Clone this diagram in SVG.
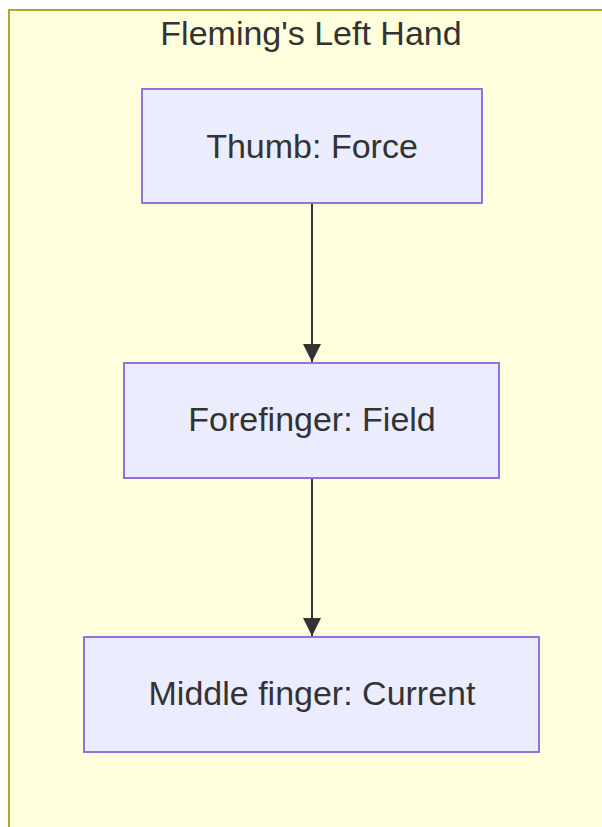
<svg xmlns="http://www.w3.org/2000/svg" width="602" height="827" viewBox="0 0 602 827">
  <style>
    .cluster { fill: #ffffde; stroke: #aaaa33; stroke-width: 2; }
    .node rect { fill: #ececff; stroke: #9370db; stroke-width: 2; }
    .label { font-family: "Liberation Sans", Arial, sans-serif; font-size: 34px; fill: #333333; text-anchor: middle; }
    .edge { stroke: #333333; stroke-width: 2; fill: none; }
  </style>
  <defs>
    <marker id="arrowhead" viewBox="0 0 10 10" refX="10" refY="5" markerUnits="userSpaceOnUse" markerWidth="18" markerHeight="18" orient="auto">
      <path d="M0,0 L10,5 L0,10 Z" fill="#333333"/>
    </marker>
  </defs>

  <g id="cluster-fleming">
    <rect class="cluster" x="9" y="10" width="620" height="850"/>
    <text class="label" x="311" y="45">Fleming's Left Hand</text>
  </g>

  <g id="edges">
    <line class="edge" x1="312" y1="204" x2="312" y2="362" marker-end="url(#arrowhead)"/>
    <line class="edge" x1="312" y1="478" x2="312" y2="636" marker-end="url(#arrowhead)"/>
  </g>

  <g id="thumb" class="node">
    <rect x="142" y="89" width="340" height="114"/>
    <text class="label" x="312" y="158">Thumb: Force</text>
  </g>

  <g id="forefinger" class="node">
    <rect x="124" y="363" width="375" height="115"/>
    <text class="label" x="312" y="431">Forefinger: Field</text>
  </g>

  <g id="middle-finger" class="node">
    <rect x="84" y="637" width="455" height="115"/>
    <text class="label" x="312" y="705">Middle finger: Current</text>
  </g>
</svg>
